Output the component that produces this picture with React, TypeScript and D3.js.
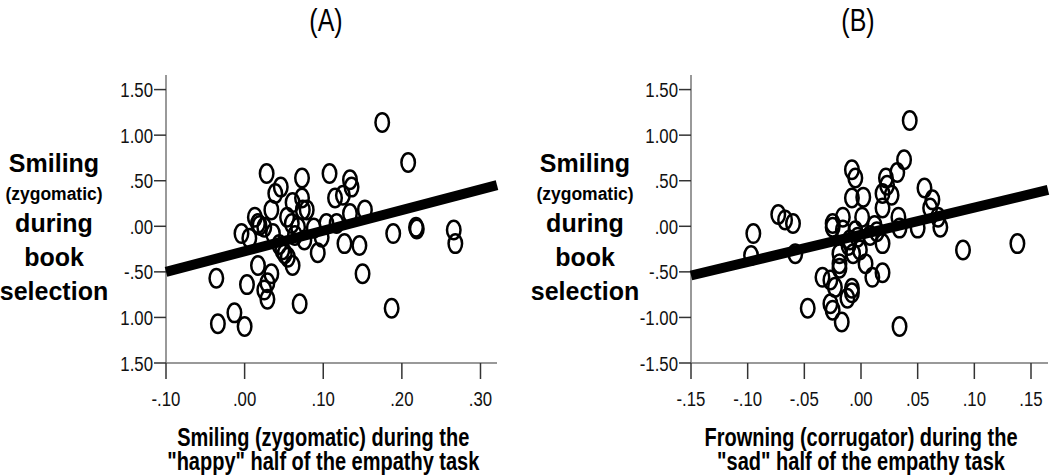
import React from "react";
import * as d3 from "d3";

// Panel A: smiling (zygomatic) during "happy" half vs smiling during book selection
const happyZygomatic = [
  0.175, 0.208, 0.028, 0.108, 0.073, 0.134, 0.136, 0.046, 0.039, 0.115,
  0.125, 0.034, 0.061, 0.073, 0.079, 0.054, 0.013, 0.017, -0.004, 0.025,
  0.060, 0.068, 0.104, 0.117, 0.153, 0.134, 0.074, 0.006, 0.036, 0.076,
  0.098, 0.048, 0.051, 0.055, 0.061, 0.093, 0.127, 0.146, 0.150, 0.189,
  0.218, 0.219, 0.266, 0.268, 0.187, 0.070, 0.017, 0.034, 0.029, 0.025,
  0.029, 0.003, -0.036, -0.034, -0.013, 0.000, 0.019, 0.088, 0.044, 0.064,
];
const bookSmilingA = [
  1.14, 0.70, 0.58, 0.58, 0.53, 0.51, 0.43, 0.43, 0.36, 0.31,
  0.34, 0.18, 0.26, 0.31, 0.18, 0.10, 0.10, 0.03, -0.08, -0.01,
  0.03, -0.01, 0.03, 0.03, 0.18, 0.14, 0.18, -0.13, -0.08, -0.15,
  -0.12, -0.26, -0.30, -0.34, -0.43, -0.29, -0.19, -0.21, -0.52, -0.08,
  -0.01, -0.03, -0.04, -0.19, -0.90, -0.85, -0.43, -0.52, -0.62, -0.70,
  -0.80, -0.64, -0.57, -1.07, -0.95, -1.10, 0.01, -0.02, -0.20, -0.10,
];

// Panel B: frowning (corrugator) during "sad" half vs smiling during book selection
const sadCorrugator = [
  0.043, 0.038, 0.032, -0.008, -0.005, 0.022, 0.023, 0.027, 0.019, 0.002,
  -0.008, 0.056, 0.063, 0.061, 0.068, 0.019, 0.033, -0.016, 0.001, 0.070,
  0.050, 0.034, 0.019, 0.090, 0.138, 0.004, 0.019, 0.010, -0.008, -0.012,
  -0.025, -0.017, 0.034, -0.019, -0.027, -0.001, -0.019, -0.095, -0.097, -0.073,
  -0.067, -0.060, -0.058, -0.047, -0.034, -0.027, -0.023, -0.019, -0.008, -0.007,
  -0.025, -0.016, -0.025, -0.010, 0.008, -0.005, 0.012, -0.011, -0.003, 0.014,
];
const bookSmilingB = [
  1.16, 0.73, 0.59, 0.62, 0.53, 0.53, 0.45, 0.34, 0.36, 0.32,
  0.31, 0.42, 0.29, 0.20, 0.10, 0.20, 0.10, 0.10, 0.10, -0.01,
  -0.02, -0.02, -0.19, -0.26, -0.19, -0.41, -0.51, -0.56, -0.73, -0.79,
  -0.92, -1.05, -1.10, -0.41, -0.59, -0.26, -0.30, -0.08, -0.32, 0.13,
  0.07, 0.03, -0.30, -0.90, -0.56, -0.85, -0.67, -0.46, -0.68, -0.30,
  -0.01, -0.04, 0.03, -0.15, -0.10, -0.05, 0.01, -0.21, -0.12, -0.06,
];

// Fit lines
const fitA = { intercept: -0.274, slope: 2.26 };
const fitB = { intercept: -0.093, slope: 2.98 };

// Ticks
const yTicks = [1.5, 1.0, 0.5, 0.0, -0.5, -1.0, -1.5];
const yTickLabelsA = ["1.50", "1.00", ".50", ".00", "-.50", "1.00", "1.50"];
const yTickLabelsB = ["1.50", "1.00", ".50", ".00", "-.50", "-1.00", "-1.50"];
const xTicksA = [-0.1, 0.0, 0.1, 0.2, 0.3];
const xTickLabelsA = ["-.10", ".00", ".10", ".20", ".30"];
const xTicksB = [-0.15, -0.1, -0.05, 0.0, 0.05, 0.1, 0.15];
const xTickLabelsB = ["-.15", "-.10", "-.05", ".00", ".05", ".10", ".15"];

const panelTitles = ["(A)", "(B)"];
const yTitleLines = ["Smiling", "(zygomatic)", "during", "book", "selection"];
const xTitleA = ["Smiling (zygomatic) during the", "\"happy\" half of the empathy task"];
const xTitleB = ["Frowning (corrugator) during the", "\"sad\" half of the empathy task"];

const FONT = "'Liberation Sans', Arial, Helvetica, sans-serif";

type PanelProps = {
  xs: number[];
  ys: number[];
  fit: { intercept: number; slope: number };
  xDomain: [number, number];
  xRange: [number, number];
  xTicks: number[];
  xTickLabels: string[];
  yTickLabels: string[];
  title: string;
  titleX: number;
  yTitleX: number;
  yTitleLines: string[];
  xTitle: string[];
};

function Panel(p: PanelProps) {
  const x = d3.scaleLinear().domain(p.xDomain).range(p.xRange);
  const y = d3.scaleLinear().domain([-1.5, 1.66]).range([363, 75]);
  const [x0, x1] = p.xDomain;
  const line = d3
    .line<number>()
    .x((d) => x(d))
    .y((d) => y(p.fit.intercept + p.fit.slope * d));
  const axisX = p.xRange[0];
  const xCenter = (x(p.xTicks[0]) + x(p.xTicks[p.xTicks.length - 1])) / 2;
  const yTitleY = [172, 200, 232, 266, 300];
  const yTitleSize = [25, 17.5, 25, 25, 25];
  return (
    <g>
      <g transform={`translate(${p.titleX},31) scale(0.78,1)`}>
        <text textAnchor="middle" fontFamily={FONT} fontSize={32} fill="#000">
          {p.title}
        </text>
      </g>
      {p.yTitleLines.map((t, i) => (
        <text
          key={i}
          x={p.yTitleX}
          y={yTitleY[i]}
          textAnchor="middle"
          fontFamily={FONT}
          fontWeight="bold"
          fontSize={yTitleSize[i]}
          fill="#000"
        >
          {t}
        </text>
      ))}
      {/* axes */}
      <line x1={axisX} x2={axisX} y1={y(1.66)} y2={y(-1.5)} stroke="#777" strokeWidth={1.5} />
      <line x1={axisX} x2={p.xRange[1]} y1={y(-1.5)} y2={y(-1.5)} stroke="#777" strokeWidth={1.5} />
      {yTicks.map((t, i) => (
        <g key={"yt" + i}>
          <line x1={axisX - 12} x2={axisX} y1={y(t)} y2={y(t)} stroke="#333" strokeWidth={1.5} />
          <g transform={`translate(${axisX - 13},${y(t) + 7.5}) scale(0.8,1)`}>
            <text textAnchor="end" fontFamily={FONT} fontSize={21} fill="#111">
              {p.yTickLabels[i]}
            </text>
          </g>
        </g>
      ))}
      {p.xTicks.map((t, i) => (
        <g key={"xt" + i}>
          <line x1={x(t)} x2={x(t)} y1={y(-1.5)} y2={y(-1.5) + 16} stroke="#333" strokeWidth={1.5} />
          <g transform={`translate(${x(t)},406) scale(0.8,1)`}>
            <text textAnchor="middle" fontFamily={FONT} fontSize={21} fill="#111">
              {p.xTickLabels[i]}
            </text>
          </g>
        </g>
      ))}
      {p.xTitle.map((t, i) => (
        <g key={"xti" + i} transform={`translate(${xCenter},${446 + i * 24}) scale(0.8,1)`}>
          <text textAnchor="middle" fontFamily={FONT} fontWeight="bold" fontSize={25} fill="#000">
            {t}
          </text>
        </g>
      ))}
      {/* points */}
      {p.xs.map((v, i) => (
        <ellipse
          key={"pt" + i}
          cx={x(v)}
          cy={y(p.ys[i])}
          rx={6.75}
          ry={9.25}
          fill="none"
          stroke="#000"
          strokeWidth={2.5}
        />
      ))}
      {/* fit line */}
      <path d={line([x0, x1]) || ""} stroke="#000" strokeWidth={10} fill="none" strokeLinecap="butt" />
    </g>
  );
}

export default function App() {
  return (
    <svg
      width={1050}
      height={476}
      style={{ display: "block", background: "#fff", position: "absolute", left: 0, top: 0 }}
    >
      <Panel
        xs={happyZygomatic}
        ys={bookSmilingA}
        fit={fitA}
        xDomain={[-0.1, 0.321]}
        xRange={[166, 497]}
        xTicks={xTicksA}
        xTickLabels={xTickLabelsA}
        yTickLabels={yTickLabelsA}
        title={panelTitles[0]}
        titleX={326}
        yTitleX={54}
        yTitleLines={yTitleLines}
        xTitle={xTitleA}
      />
      <Panel
        xs={sadCorrugator}
        ys={bookSmilingB}
        fit={fitB}
        xDomain={[-0.15, 0.165]}
        xRange={[691, 1048]}
        xTicks={xTicksB}
        xTickLabels={xTickLabelsB}
        yTickLabels={yTickLabelsB}
        title={panelTitles[1]}
        titleX={858}
        yTitleX={585}
        yTitleLines={yTitleLines}
        xTitle={xTitleB}
      />
    </svg>
  );
}
